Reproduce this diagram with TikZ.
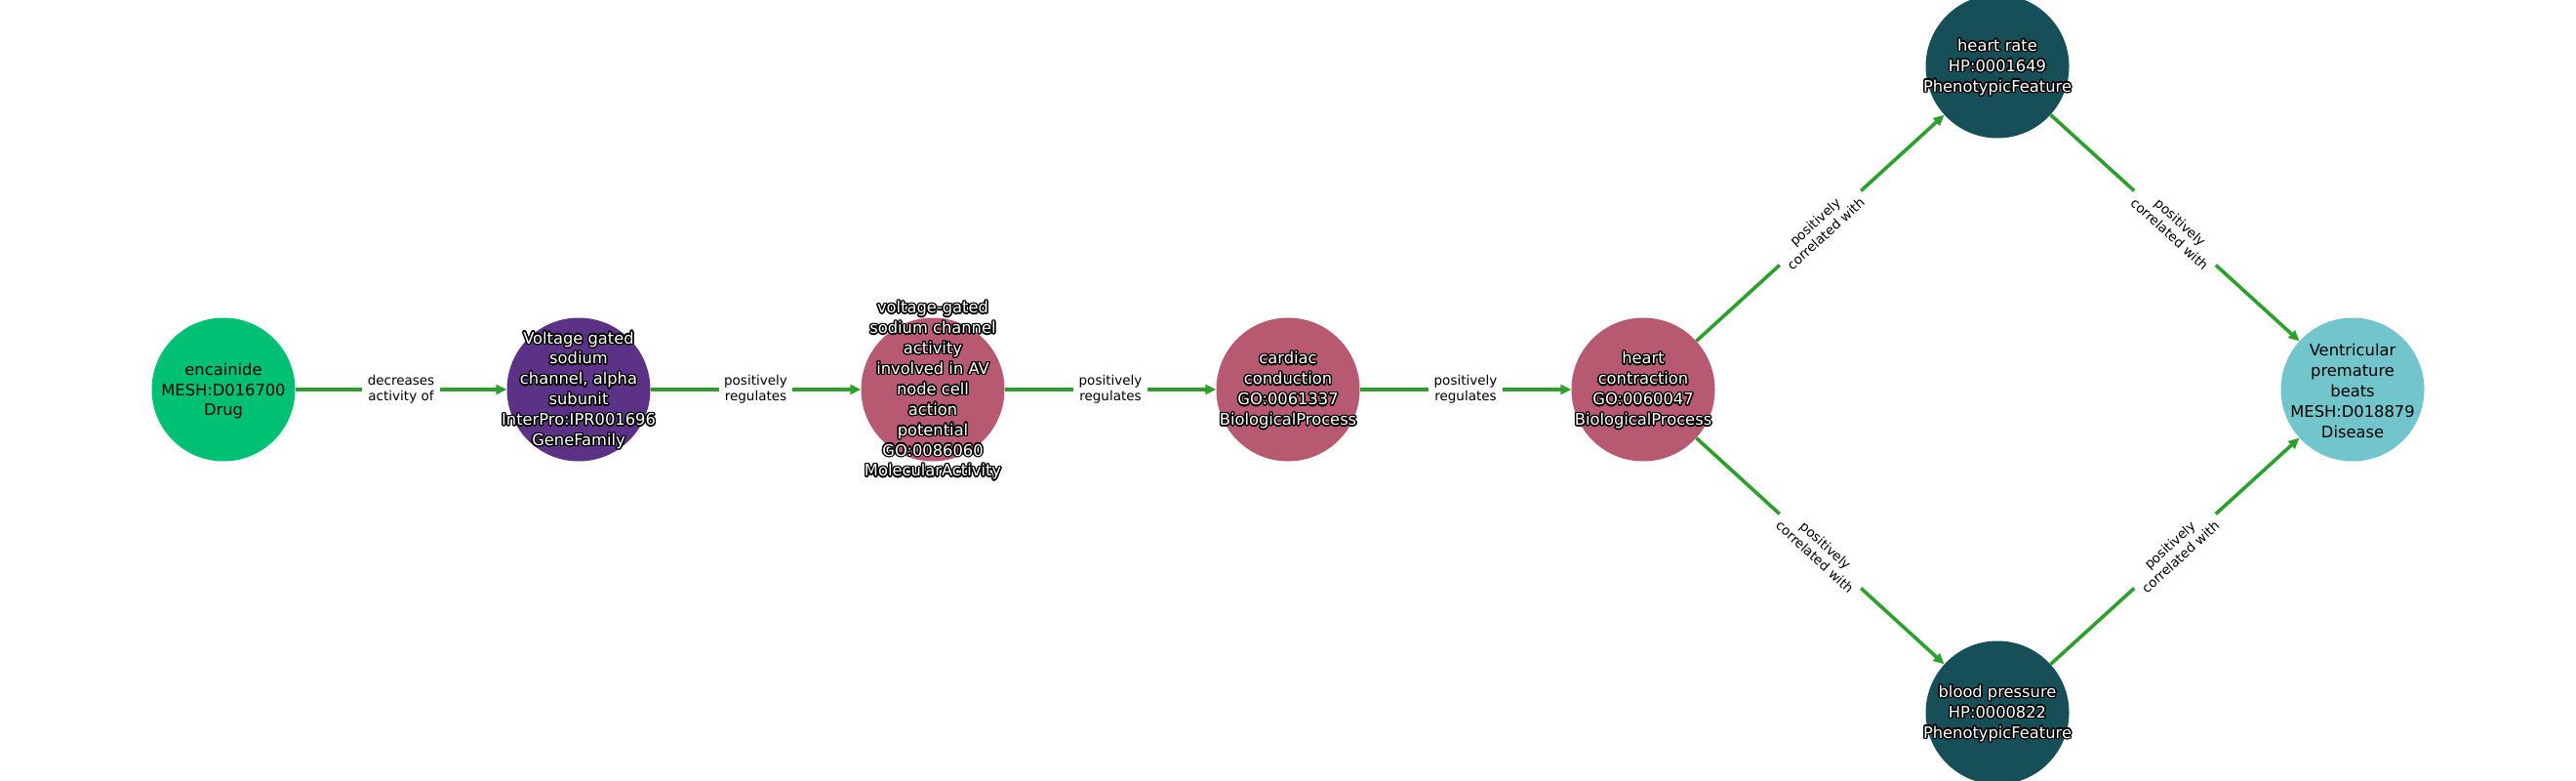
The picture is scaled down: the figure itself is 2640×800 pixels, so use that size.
\documentclass[tikz,border=0pt]{standalone}
\usepackage{fontspec}
\setmainfont{DejaVu Sans}
\usepackage{contour}
\contourlength{1.4bp}
\usetikzlibrary{arrows.meta}
\definecolor{cdrug}{HTML}{00C173}
\definecolor{cgene}{HTML}{5B3286}
\definecolor{cgo}{HTML}{B75A71}
\definecolor{cpheno}{HTML}{174F59}
\definecolor{cdis}{HTML}{72C5CB}
\definecolor{egreen}{HTML}{2CA02C}
\newcommand{\wt}[1]{\contour{black}{#1}}
\begin{document}
\begin{tikzpicture}[x=1bp,y=-1bp,
  circ/.style={circle, minimum size=147bp, inner sep=0pt, draw=none},
  ntext/.style={align=center, font=\fontsize{16.3bp}{20.9bp}\selectfont, inner sep=0pt, yshift=-1.5bp},
  otext/.style={ntext, text=white},
  edge/.style={draw=egreen, line width=3.6bp, -{Triangle[length=11bp,width=10bp]}},
  elab/.style={fill=white, inner xsep=5.5bp, inner ysep=3bp, align=center, font=\fontsize{13.5bp}{16.3bp}\selectfont, sloped, text=black}
]
\useasboundingbox (0,0) rectangle (2640,800);
% circles
\node[circ, fill=cdrug]  (n1) at (229,399) {};
\node[circ, fill=cgene]  (n2) at (593,399) {};
\node[circ, fill=cgo]    (n3) at (956,399) {};
\node[circ, fill=cgo]    (n4) at (1320,399) {};
\node[circ, fill=cgo]    (n5) at (1684,399) {};
\node[circ, fill=cpheno] (n6) at (2047,68) {};
\node[circ, fill=cpheno] (n7) at (2047,730) {};
\node[circ, fill=cdis]   (n8) at (2411,399) {};
% edges
\draw[edge] (n1) -- node[elab]{decreases\\activity of} (n2);
\draw[edge] (n2) -- node[elab]{positively\\regulates} (n3);
\draw[edge] (n3) -- node[elab]{positively\\regulates} (n4);
\draw[edge] (n4) -- node[elab]{positively\\regulates} (n5);
\draw[edge] (n5) -- node[elab]{positively\\correlated with} (n6);
\draw[edge] (n5) -- node[elab]{positively\\correlated with} (n7);
\draw[edge] (n6) -- node[elab]{positively\\correlated with} (n8);
\draw[edge] (n7) -- node[elab]{positively\\correlated with} (n8);
% texts
\node[ntext] (t1) at (n1) {encainide\\MESH:D016700\\Drug};
\node[otext] (t2) at (n2) {\wt{Voltage gated}\\\wt{sodium}\\\wt{channel, alpha}\\\wt{subunit}\\\wt{InterPro:IPR001696}\\\wt{GeneFamily}};
\node[otext] (t3) at (n3) {\wt{voltage-gated}\\\wt{sodium channel}\\\wt{activity}\\\wt{involved in AV}\\\wt{node cell}\\\wt{action}\\\wt{potential}\\\wt{GO:0086060}\\\wt{MolecularActivity}};
\node[otext] (t4) at (n4) {\wt{cardiac}\\\wt{conduction}\\\wt{GO:0061337}\\\wt{BiologicalProcess}};
\node[otext] (t5) at (n5) {\wt{heart}\\\wt{contraction}\\\wt{GO:0060047}\\\wt{BiologicalProcess}};
\node[otext] (t6) at (n6) {\wt{heart rate}\\\wt{HP:0001649}\\\wt{PhenotypicFeature}};
\node[otext] (t7) at (n7) {\wt{blood pressure}\\\wt{HP:0000822}\\\wt{PhenotypicFeature}};
\node[ntext] (t8) at (n8) {Ventricular\\premature\\beats\\MESH:D018879\\Disease};
\end{tikzpicture}
\end{document}
